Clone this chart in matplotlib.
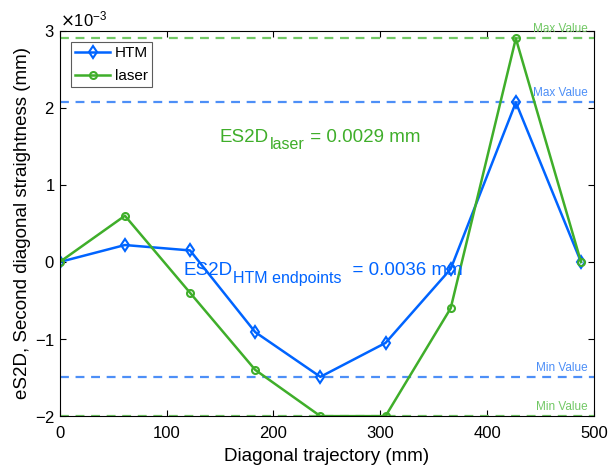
import numpy as np
import matplotlib
matplotlib.use("Agg")
import matplotlib.pyplot as plt
from matplotlib.ticker import ScalarFormatter

plt.rcParams['font.family'] = ['Liberation Sans', 'DejaVu Sans']

# data (mm)
x = [0, 61, 122, 183, 244, 305, 366, 427, 488]
htm = [0, 0.22e-3, 0.15e-3, -0.91e-3, -1.49e-3, -1.05e-3, -0.09e-3, 2.07e-3, 0]
laser = [0, 0.60e-3, -0.40e-3, -1.40e-3, -2.0e-3, -2.0e-3, -0.60e-3, 2.9e-3, 0]

blue = '#0064ff'
green = '#3fae2a'
blue_light = '#4d8ff7'
green_light = '#72c865'

fig, ax = plt.subplots(figsize=(6.16, 4.66), dpi=100)
fig.subplots_adjust(left=0.097, right=0.964, top=0.934, bottom=0.107)

for val, c in [(max(htm), blue_light), (min(htm), blue_light),
               (max(laser), green_light), (min(laser), green_light)]:
    ax.axhline(val, color=c, ls='--', lw=1.6, dashes=(4, 3))
    name = 'Max Value' if val > 0 else 'Min Value'
    ax.text(494, val + 0.04e-3, name, color=c, fontsize=8.5, ha='right', va='bottom')

ax.plot(x, htm, color=blue, marker='d', mfc='none', mew=1.5, ms=6, lw=1.8, label='HTM')
ax.plot(x, laser, color=green, marker='o', mfc='none', mew=1.5, ms=5, lw=1.8, label='laser')


def label_with_sub(x0, y0, sub, rest, color):
    # ES2D with a subscript, built from three text pieces
    t1 = ax.text(x0, y0, 'ES2D', color=color, fontsize=13.5, va='baseline')
    t2 = ax.annotate(sub, xy=(1, 0), xycoords=t1, xytext=(0.5, -2.5),
                     textcoords='offset points', color=color, fontsize=11.5, va='baseline')
    ax.annotate(rest, xy=(1, 0), xycoords=(t2, t1), color=color, fontsize=13.5, va='bottom')


label_with_sub(150, 1.56e-3, 'laser', ' = 0.0029 mm', green)
label_with_sub(116, -0.17e-3, 'HTM endpoints', '  = 0.0036 mm', blue)

ax.set_xlim(0, 500)
ax.set_ylim(-2e-3, 3e-3)
ax.set_xticks([0, 100, 200, 300, 400, 500])
ax.set_yticks(np.arange(-2, 4) * 1e-3)
fmt = ScalarFormatter(useMathText=True)
fmt.set_powerlimits((-3, -3))
ax.yaxis.set_major_formatter(fmt)
ax.yaxis.get_offset_text().set_fontsize(12)
ax.tick_params(direction='in', top=True, right=True, labelsize=12, length=4)
ax.tick_params(axis='x', pad=7)
ax.set_xlabel('Diagonal trajectory (mm)', fontsize=13.5, labelpad=5)
ax.set_ylabel('eS2D, Second diagonal straightness (mm)', fontsize=13.5, labelpad=3)

leg = ax.legend(loc='upper left', fontsize=11, fancybox=False, edgecolor='#333333',
                borderaxespad=0.75, handlelength=2.3, handletextpad=0.3,
                borderpad=0.25, labelspacing=0.6)
leg.get_frame().set_linewidth(0.8)

fig.savefig('out.png', dpi=100)
